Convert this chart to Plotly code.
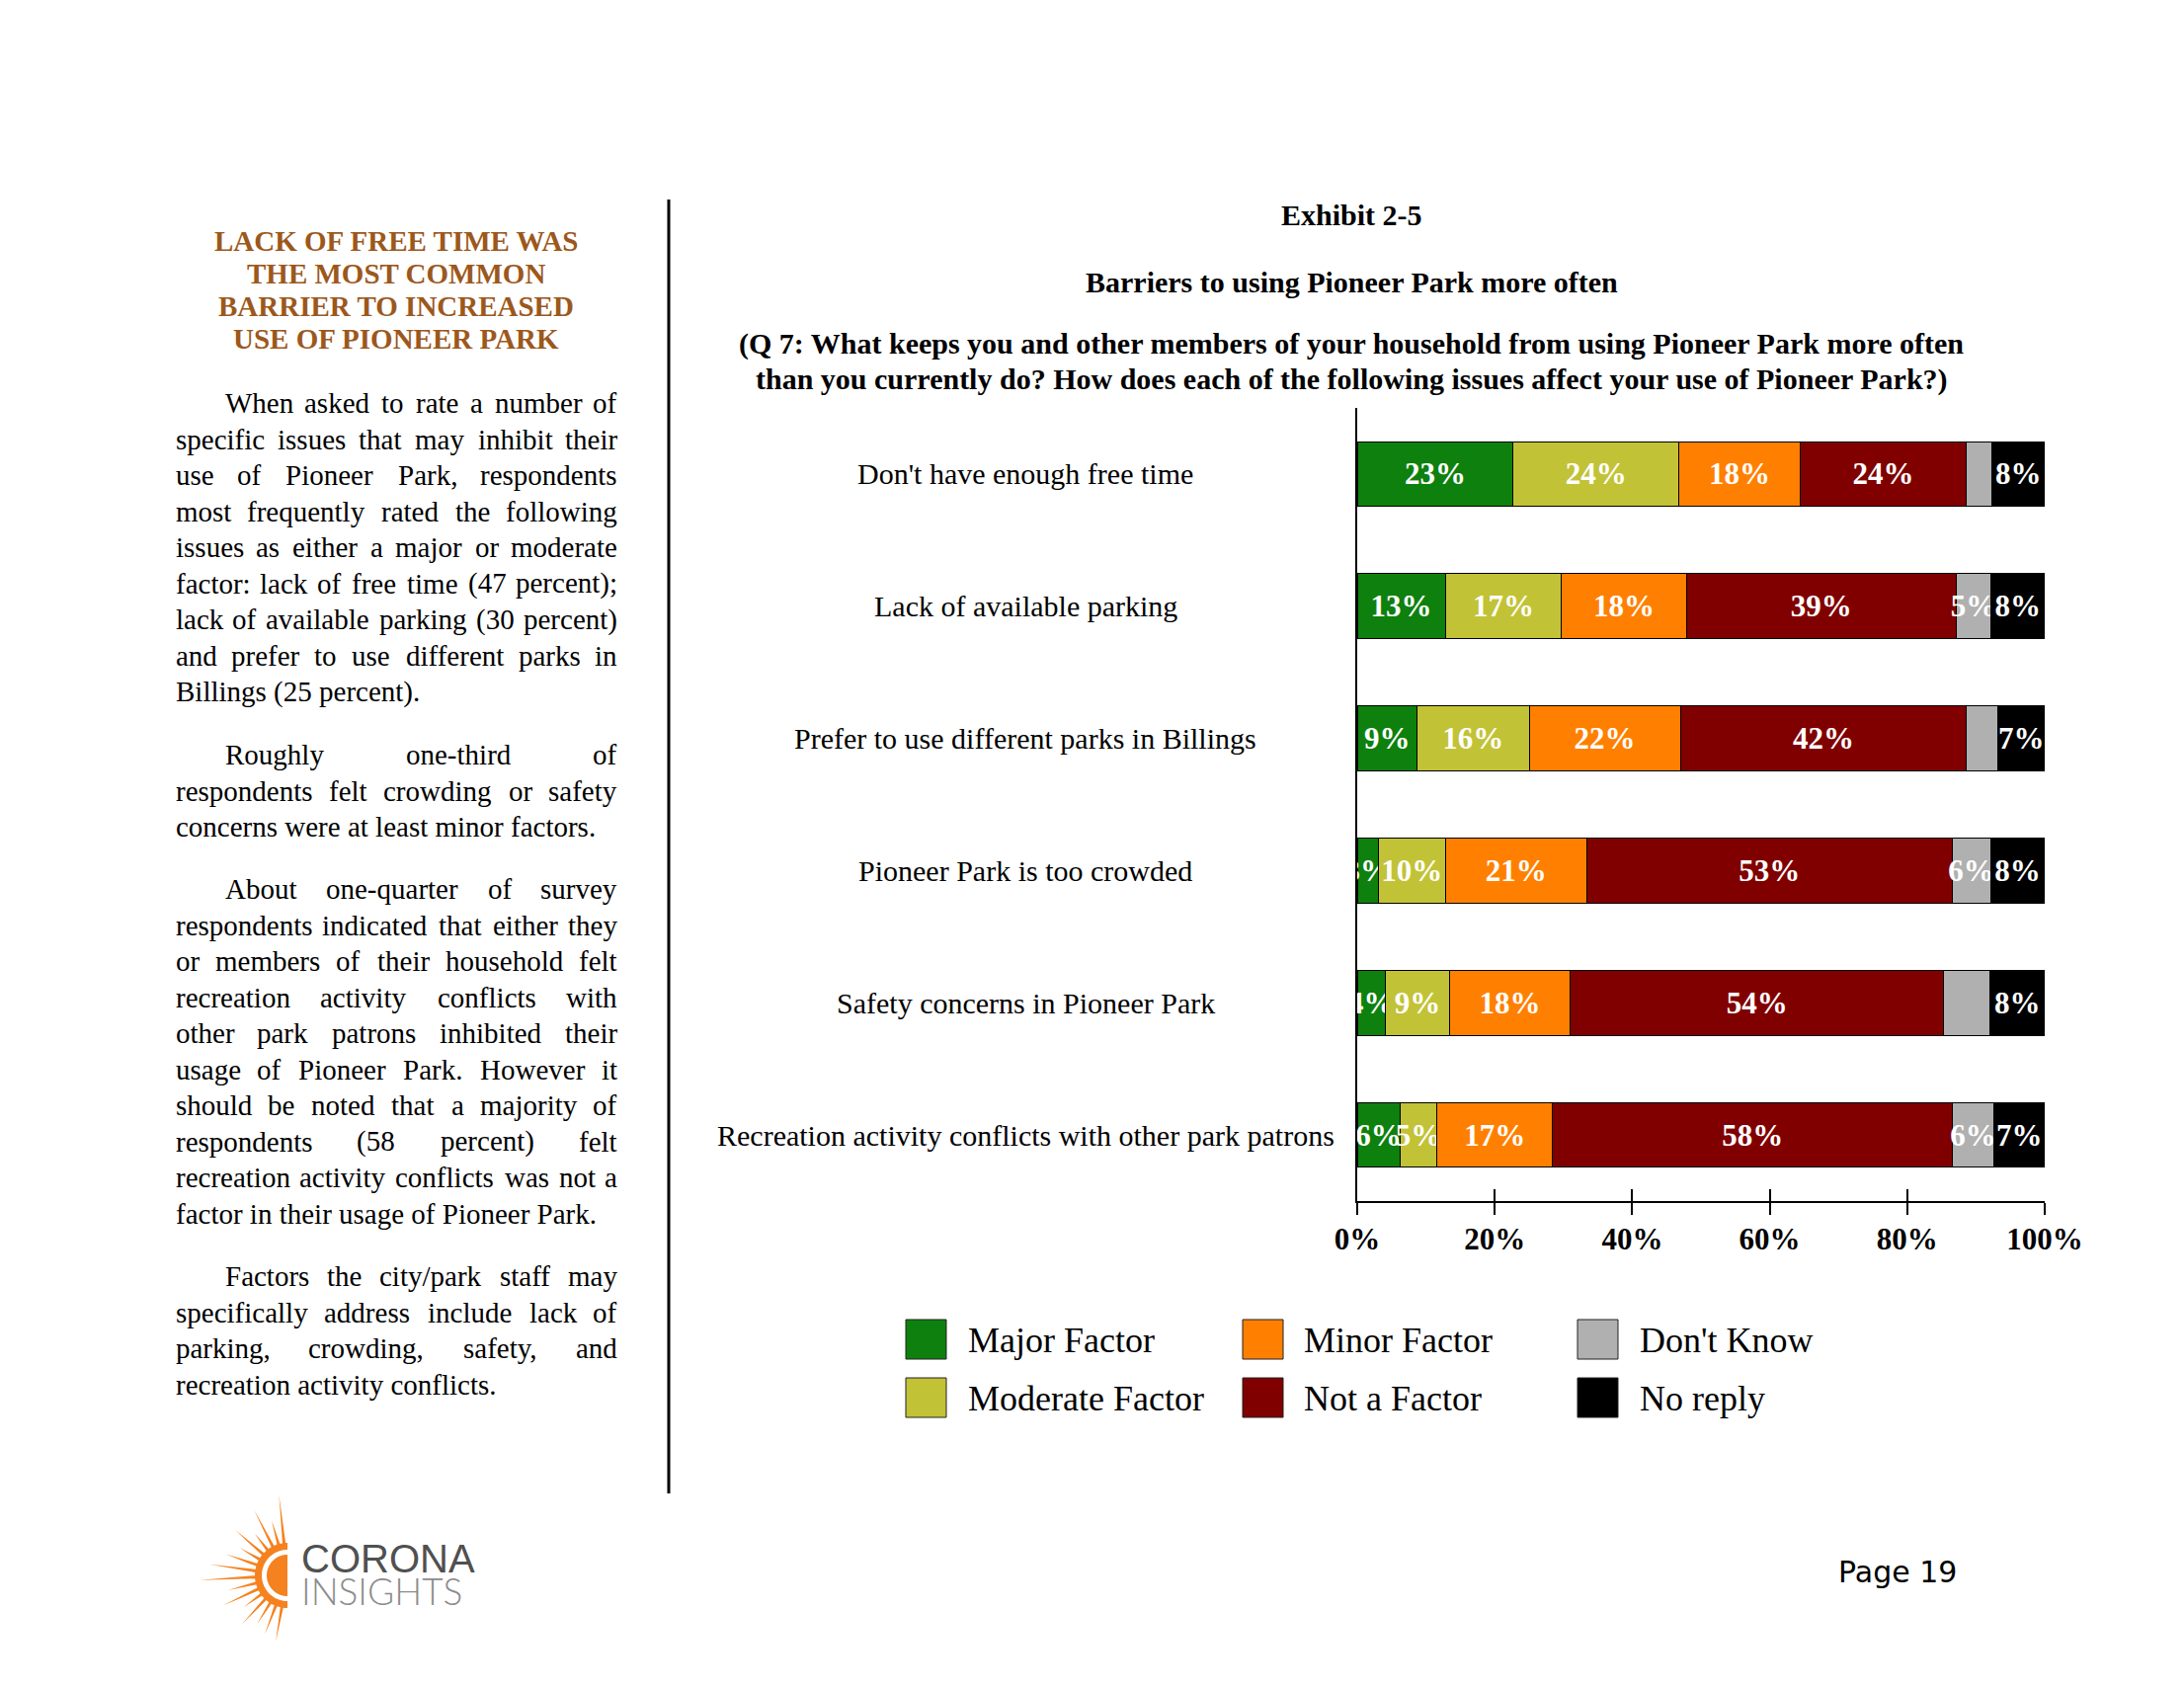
import math
import plotly.graph_objects as go

# ---------------- data ----------------
categories = [
    "Don't have enough free time",
    "Lack of available parking",
    "Prefer to use different parks in Billings",
    "Pioneer Park is too crowded",
    "Safety concerns in Pioneer Park",
    "Recreation activity conflicts with other park patrons",
]
series_names = ["Major Factor", "Moderate Factor", "Minor Factor",
                "Not a Factor", "Don't Know", "No reply"]
major = [22.7, 12.8, 8.7, 3.1, 4.1, 6.2]
moderate = [24.1, 16.9, 16.3, 9.7, 9.3, 5.4]
minor = [17.6, 18.2, 22.0, 20.6, 17.6, 16.8]
not_factor = [24.2, 39.2, 41.6, 53.1, 54.3, 58.2]
dont_know = [3.7, 5.1, 4.6, 5.6, 6.7, 6.0]
no_reply = [7.7, 7.8, 6.8, 7.9, 8.0, 7.4]
dont_know_label_shown = [False, True, False, True, False, True]
colors = ["#0E800E", "#C2C236", "#FF8000", "#800000", "#B0B0B0", "#000000"]
tick_values = [0, 20, 40, 60, 80, 100]
tick_labels = ["0%", "20%", "40%", "60%", "80%", "100%"]

title_lines = ["Exhibit 2-5", "Barriers to using Pioneer Park more often",
               "(Q 7: What keeps you and other members of your household from using Pioneer Park more often",
               "than you currently do? How does each of the following issues affect your use of Pioneer Park?)"]

heading_lines = ["LACK OF FREE TIME WAS", "THE MOST COMMON",
                 "BARRIER TO INCREASED", "USE OF PIONEER PARK"]
paragraphs = [
    ["When asked to rate a number of",
     "specific issues that may inhibit their",
     "use of Pioneer Park, respondents",
     "most frequently rated the following",
     "issues as either a major or moderate",
     "factor: lack of free time (47 percent);",
     "lack of available parking (30 percent)",
     "and prefer to use different parks in",
     "Billings (25 percent)."],
    ["Roughly one-third of",
     "respondents felt crowding or safety",
     "concerns were at least minor factors."],
    ["About one-quarter of survey",
     "respondents indicated that either they",
     "or members of their household felt",
     "recreation activity conflicts with",
     "other park patrons inhibited their",
     "usage of Pioneer Park. However it",
     "should be noted that a majority of",
     "respondents (58 percent) felt",
     "recreation activity conflicts was not a",
     "factor in their usage of Pioneer Park."],
    ["Factors the city/park staff may",
     "specifically address include lack of",
     "parking, crowding, safety, and",
     "recreation activity conflicts."],
]

# ---------------- geometry helpers ----------------
FW, FH = 2211, 1709
L, R, T, B = 1374, 2070, 413, 1216
PW, PH = R - L, B - T


def px(x):
    return (x - L) / PW


def py(y):
    return (B - y) / PH


SERIF = "Liberation Serif"

# Times / Liberation Serif advance widths (1/1000 em)
CW = {}
for c, w in zip("abcdefghijklmnopqrstuvwxyz",
                [444, 500, 444, 500, 444, 333, 500, 500, 278, 278, 500, 278, 778,
                 500, 500, 500, 500, 333, 389, 278, 500, 500, 722, 500, 500, 444]):
    CW[c] = w
for c, w in zip("ABCDEFGHIJKLMNOPQRSTUVWXYZ",
                [722, 667, 667, 722, 611, 556, 722, 722, 333, 389, 722, 611, 889,
                 722, 722, 556, 722, 667, 556, 611, 722, 722, 944, 722, 722, 611]):
    CW[c] = w
CW.update({" ": 250, "(": 333, ")": 333, ".": 250, ",": 250, ";": 278,
           ":": 278, "-": 333, "/": 278, "'": 180, "%": 833})


def text_width(s, size):
    return sum(CW.get(ch, 500) for ch in s) * size / 1000.0


# ---------------- figure ----------------
fig = go.Figure()

series_values = [major, moderate, minor, not_factor, dont_know, no_reply]
for i, (name, vals) in enumerate(zip(series_names, series_values)):
    if name == "Don't Know":
        labels = [f"{round(v)}%" if show else "" for v, show in zip(vals, dont_know_label_shown)]
    else:
        labels = [f"{round(v)}%" for v in vals]
    fig.add_trace(go.Bar(
        y=categories, x=vals, name=name, orientation="h",
        marker=dict(color=colors[i], line=dict(color="#000000", width=1)),
        width=0.49,
        text=labels, textposition="inside", insidetextanchor="middle",
        textangle=0, constraintext="none", cliponaxis=True,
        textfont=dict(family=SERIF, size=31, color="white", weight="bold"),
        hoverinfo="skip", showlegend=False,
    ))

# invisible helper trace so the overlay axis (upper half of the crossing ticks) is drawn
fig.add_trace(go.Scatter(x=[tick_values[0]], y=[categories[0]], xaxis="x2", yaxis="y",
                         mode="markers", marker=dict(opacity=0, size=1),
                         hoverinfo="skip", showlegend=False))

annotations = []
shapes = []

# category labels (centred, as in the original)
for cat in categories:
    annotations.append(dict(x=px(1038), y=cat, xref="paper", yref="y", text=cat,
                            showarrow=False, xanchor="center", yanchor="middle",
                            font=dict(family=SERIF, size=30, color="black")))

# chart titles
title_y = [218, 285, 348, 384]
for line, yy in zip(title_lines, title_y):
    annotations.append(dict(x=px(1368), y=py(yy), xref="paper", yref="paper", text=line,
                            showarrow=False, xanchor="center", yanchor="middle",
                            font=dict(family=SERIF, size=30, color="black", weight="bold")))

# legend (large square keys, 3 columns x 2 rows)
leg_sq_x = [917, 1258, 1597]
leg_txt_x = [978, 1318, 1658]
leg_row_y = [1356, 1415]
for i, (name, col) in enumerate(zip(series_names, colors)):
    c, r = i // 2, i % 2
    x0, yc = leg_sq_x[c], leg_row_y[r]
    shapes.append(dict(type="rect", xref="paper", yref="paper",
                       x0=px(x0), x1=px(x0 + 41), y0=py(yc - 20), y1=py(yc + 20),
                       fillcolor=col, line=dict(color="#222222", width=1)))
    annotations.append(dict(x=px(leg_txt_x[c]), y=py(yc + 1), xref="paper", yref="paper",
                            text=name, showarrow=False, xanchor="left", yanchor="middle",
                            font=dict(family=SERIF, size=36, color="black")))

# vertical divider
shapes.append(dict(type="line", xref="paper", yref="paper", x0=px(677), x1=px(677),
                   y0=py(202), y1=py(1512), line=dict(color="black", width=3)))

# left column heading
for line, yy in zip(heading_lines, [244, 277, 310, 343]):
    annotations.append(dict(x=px(401), y=py(yy), xref="paper", yref="paper", text=line,
                            showarrow=False, xanchor="center", yanchor="middle",
                            font=dict(family=SERIF, size=29, color="#9C581C", weight="bold")))

# left column body text (justified)
BODY_SIZE = 29
COL_L, COL_R, INDENT = 177, 626, 50
para_start = [408, 764, 900, 1292]
LINE_SP = 36.5
for para, y0 in zip(paragraphs, para_start):
    for j, line in enumerate(para):
        yy = y0 + j * LINE_SP
        left = COL_L + (INDENT if j == 0 else 0)
        last = (j == len(para) - 1)
        if last:
            annotations.append(dict(x=px(left), y=py(yy), xref="paper", yref="paper",
                                    text=line, showarrow=False, xanchor="left",
                                    yanchor="middle", borderpad=0,
                                    font=dict(family=SERIF, size=BODY_SIZE, color="black")))
            continue
        words = line.split(" ")
        widths = [text_width(w, BODY_SIZE) for w in words]
        gap = (COL_R - left - sum(widths)) / (len(words) - 1)
        xcur = left
        for k, (w, wd) in enumerate(zip(words, widths)):
            if k == 0:
                ax, anchor = xcur, "left"
            elif k == len(words) - 1:
                ax, anchor = COL_R, "right"
            else:
                ax, anchor = xcur + wd / 2, "center"
            annotations.append(dict(x=px(ax), y=py(yy), xref="paper", yref="paper",
                                    text=w, showarrow=False, xanchor=anchor,
                                    yanchor="middle", borderpad=0,
                                    font=dict(family=SERIF, size=BODY_SIZE, color="black")))
            xcur += wd + gap

# ---------------- logo (decorative) ----------------
SUN = "#F5821F"
cx, cy = 291, 1595


def poly(points):
    return "M" + " L".join(f"{px(x):.5f},{py(y):.5f}" for x, y in points) + " Z"


def half_disk(r, n=40):
    pts = []
    for k in range(n + 1):
        a = math.radians(90 + 180 * k / n)
        pts.append((cx + r * math.cos(a), cy - r * math.sin(a)))
    return pts


ray_angles = [96, 106, 117, 128, 139, 150, 161, 172, 183, 194, 205, 216, 227, 238, 249, 260]
ray_lengths = [82, 58, 74, 54, 70, 56, 66, 80, 89, 62, 72, 55, 68, 58, 64, 68]
ray_path = ""
for ang, ln in zip(ray_angles, ray_lengths):
    a = math.radians(ang)
    da = math.radians(3.2)
    p1 = (cx + 30 * math.cos(a - da), cy - 30 * math.sin(a - da))
    p2 = (cx + ln * math.cos(a), cy - ln * math.sin(a))
    p3 = (cx + 30 * math.cos(a + da), cy - 30 * math.sin(a + da))
    p1 = (min(p1[0], cx), p1[1])
    p3 = (min(p3[0], cx), p3[1])
    ray_path += poly([p1, p2, p3]) + " "
shapes.append(dict(type="path", xref="paper", yref="paper", path=ray_path,
                   fillcolor=SUN, line=dict(width=0)))
shapes.append(dict(type="path", xref="paper", yref="paper", path=poly(half_disk(33)),
                   fillcolor=SUN, line=dict(width=0)))
shapes.append(dict(type="path", xref="paper", yref="paper", path=poly(half_disk(26)),
                   fillcolor="white", line=dict(width=0)))
shapes.append(dict(type="path", xref="paper", yref="paper", path=poly(half_disk(21)),
                   fillcolor=SUN, line=dict(width=0)))
annotations.append(dict(x=px(303), y=py(1578), xref="paper", yref="paper", text="CORONA",
                        showarrow=False, xanchor="left", yanchor="middle",
                        font=dict(family="Liberation Sans", size=40, color="#505050")))
annotations.append(dict(x=px(303), y=py(1610), xref="paper", yref="paper", text="INSIGHTS",
                        showarrow=False, xanchor="left", yanchor="middle",
                        font=dict(family="Lato", size=37, color="#8C8C8C", weight=300)))

# page number
annotations.append(dict(x=px(1921), y=py(1591), xref="paper", yref="paper", text="Page 19",
                        showarrow=False, xanchor="center", yanchor="middle",
                        font=dict(family="DejaVu Sans", size=30, color="black")))

fig.update_layout(
    width=FW, height=FH,
    margin=dict(l=L, r=FW - R, t=T, b=FH - B, pad=0),
    barmode="stack",
    plot_bgcolor="white", paper_bgcolor="white",
    showlegend=False,
    font=dict(family=SERIF, color="black"),
    xaxis=dict(range=[0, 100], tickvals=tick_values, ticktext=tick_labels,
               ticks="outside", ticklen=12, tickwidth=1.5, tickcolor="black",
               showline=True, linecolor="black", linewidth=1.5,
               showgrid=False, zeroline=False, fixedrange=True,
               ticklabelstandoff=-2,
               tickfont=dict(family=SERIF, size=31, color="black", weight="bold")),
    xaxis2=dict(overlaying="x", anchor="y", side="bottom", range=[0, 100],
                tickvals=tick_values, ticks="inside", ticklen=12, tickwidth=1.5,
                tickcolor="black", showticklabels=False, showgrid=False,
                zeroline=False, showline=False, fixedrange=True),
    yaxis=dict(type="category", categoryarray=categories, range=[5.5, -0.5],
               showline=True, linecolor="black", linewidth=1.5,
               showticklabels=False, ticks="", showgrid=False, zeroline=False,
               fixedrange=True),
    annotations=annotations,
    shapes=shapes,
)

fig.write_html("out.html", config={"displayModeBar": False},
               post_script="document.body.style.margin='0px';")
